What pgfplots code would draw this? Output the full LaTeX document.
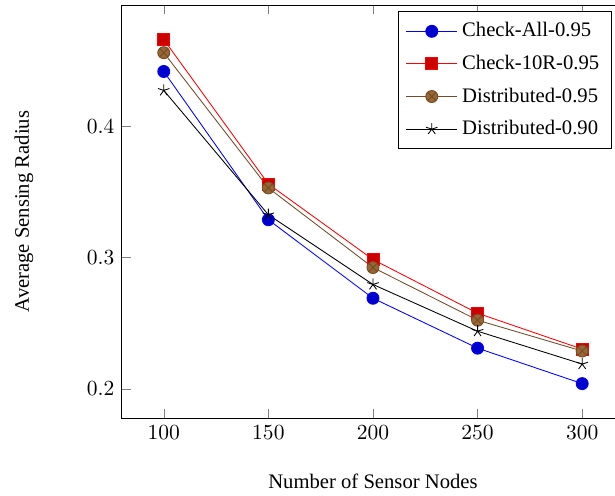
\documentclass[border=0pt]{standalone}
\usepackage{fontspec}
\setmainfont{Liberation Serif}
\usepackage{pgfplots}
\pgfplotsset{compat=1.18}

\begin{document}
\begin{tikzpicture}
% visible frame of the figure (the right border of the axis falls outside it)
\path[use as bounding box, clip] (-56.7pt,-35.8pt) rectangle (229.3pt,194.4pt);
\begin{axis}[
  scale only axis,
  width=233.5pt, height=192pt,
  xtick={100,150,200,250,300},
  ytick={0.2,0.3,0.4},
  xlabel={Number of Sensor Nodes},
  ylabel={Average Sensing Radius},
  label style={font=\fontsize{9.6}{11}\selectfont},
  xlabel style={yshift=-9pt},
  ylabel style={yshift=18pt},
  every axis plot/.append style={mark size=2.8pt},
  legend cell align=left,
  legend style={at={(0.975,0.985)}, anchor=north east,
    font=\fontsize{9.6}{11}\selectfont,
    row sep=3pt, inner xsep=3.5pt, inner ysep=3pt},
  legend image code/.code={%
    \draw[mark repeat=2,mark phase=2,#1]
      plot coordinates {(0cm,0cm) (0.42cm,0cm) (0.84cm,0cm)};},
]
\addplot[blue, mark=*, mark options={fill=blue!80!black}]
  coordinates {(100,0.4417) (150,0.3288) (200,0.2690) (250,0.2310) (300,0.2040)};
\addlegendentry{Check-All-0.95}
\addplot[red, mark=square*, mark options={fill=red!80!black}]
  coordinates {(100,0.4660) (150,0.3560) (200,0.2985) (250,0.2576) (300,0.2303)};
\addlegendentry{Check-10R-0.95}
\addplot[brown!60!black, mark=otimes*, mark options={fill=brown!80!black}]
  coordinates {(100,0.4560) (150,0.3530) (200,0.2924) (250,0.2523) (300,0.2288)};
\addlegendentry{Distributed-0.95}
\addplot[black, mark=star]
  coordinates {(100,0.4273) (150,0.3326) (200,0.2795) (250,0.2439) (300,0.2189)};
\addlegendentry{Distributed-0.90}
\end{axis}
\end{tikzpicture}
\end{document}
